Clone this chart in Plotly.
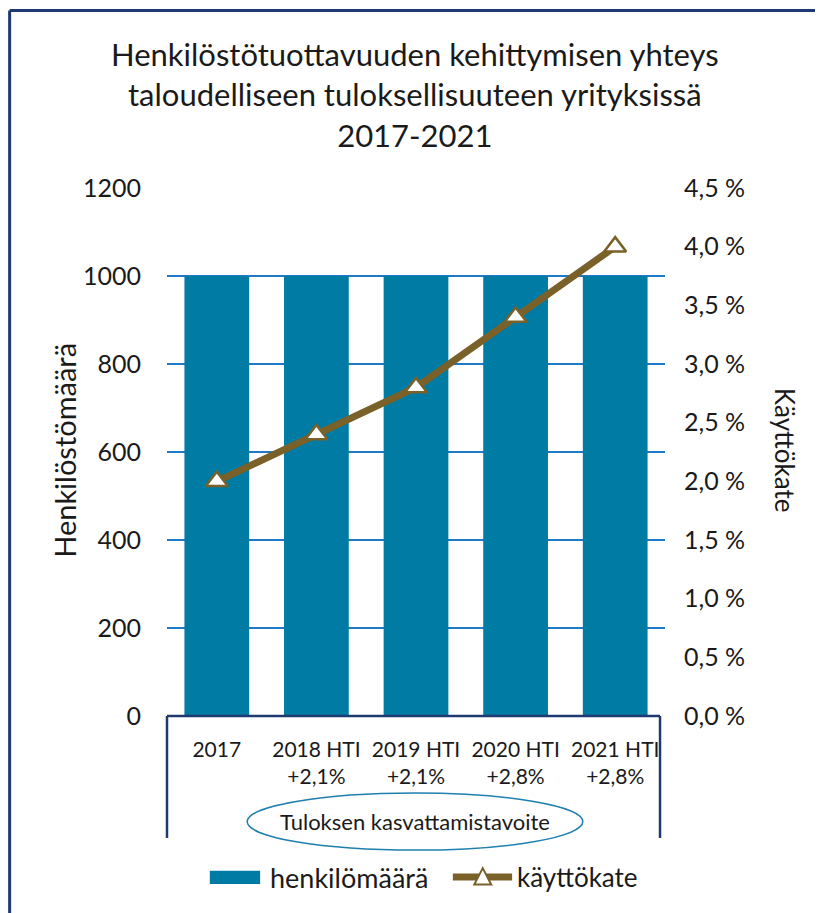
import plotly.graph_objects as go

# data
categories = ["2017", "2018 HTI<br>+2,1%", "2019 HTI<br>+2,1%", "2020 HTI<br>+2,8%", "2021 HTI<br>+2,8%"]
henkilomaara = [1000, 1000, 1000, 1000, 1000]
kayttokate = [2.0, 2.4, 2.8, 3.4, 4.0]

TITLE = "Henkilöstötuottavuuden kehittymisen yhteys<br>taloudelliseen tuloksellisuuteen yrityksissä<br>2017-2021"
FONT = "Lato"
TXT = "#1a1a1a"
BAR = "#007BA4"
LINE = "#7A6129"
GRID = "#1F78C8"
NAVY = "#1F3A70"

fig = go.Figure()
fig.add_trace(go.Bar(
    x=categories, y=henkilomaara, name="henkilömäärä",
    marker=dict(color=BAR, line_width=0), showlegend=False,
))
fig.add_trace(go.Scatter(
    x=categories, y=kayttokate, name="käyttökate", yaxis="y2",
    mode="lines+markers",
    line=dict(color=LINE, width=7),
    marker=dict(symbol="triangle-up", size=19, color="white", line=dict(color=LINE, width=2.5)),
    showlegend=False,
))

shapes = []
# box around category labels
for x0, y0, x1, y1 in [(0, 0, 0.99, 0), (0, 0, 0, -0.231), (0.99, 0, 0.99, -0.231)]:
    shapes.append(dict(type="line", xref="paper", yref="paper", x0=x0, y0=y0, x1=x1, y1=y1,
                       line=dict(color=NAVY, width=2.5)))
# ellipse
shapes.append(dict(type="circle", xref="paper", yref="paper", x0=0.161, x1=0.835, y0=-0.254, y1=-0.146,
                   line=dict(color="#1F7FAF", width=1.5)))
# outer frame (top and left edges visible)
shapes.append(dict(type="line", xref="paper", yref="paper", x0=-0.316, y0=1.336, x1=1.32, y1=1.336,
                   line=dict(color=NAVY, width=3)))
shapes.append(dict(type="line", xref="paper", yref="paper", x0=-0.316, y0=1.336, x1=-0.316, y1=-0.375,
                   line=dict(color=NAVY, width=3)))
# legend symbols
shapes.append(dict(type="rect", xref="paper", yref="paper", x0=0.086, x1=0.187, y0=-0.318, y1=-0.293,
                   fillcolor=BAR, line_width=0))
shapes.append(dict(type="line", xref="paper", yref="paper", x0=0.574, x1=0.693, y0=-0.305, y1=-0.305,
                   line=dict(color=LINE, width=7)))
shapes.append(dict(type="path", xref="paper", yref="paper",
                   path="M 0.617 -0.319 L 0.651 -0.319 L 0.634 -0.288 Z",
                   fillcolor="white", line=dict(color=LINE, width=2)))

annotations = [
    dict(text=TITLE, x=0.498, y=1.2936, xref="paper", yref="paper", xanchor="center", yanchor="top",
         showarrow=False, font=dict(size=31, color=TXT)),
    dict(text="Henkilöstömäärä", x=-0.205, y=0.504, xref="paper", yref="paper", textangle=-90,
         xanchor="center", yanchor="middle", showarrow=False, font=dict(size=29, color=TXT)),
    dict(text="Käyttökate", x=1.241, y=0.504, xref="paper", yref="paper", textangle=90,
         xanchor="center", yanchor="middle", showarrow=False, font=dict(size=26, color=TXT)),
    dict(text="Tuloksen kasvattamistavoite", x=0.498, y=-0.2, xref="paper", yref="paper",
         xanchor="center", yanchor="middle", showarrow=False, font=dict(size=22, color=TXT)),
    dict(text="henkilömäärä", x=0.203, y=-0.305, xref="paper", yref="paper", xanchor="left",
         yanchor="middle", showarrow=False, font=dict(size=27, color=TXT)),
    dict(text="käyttökate", x=0.699, y=-0.305, xref="paper", yref="paper", xanchor="left",
         yanchor="middle", showarrow=False, font=dict(size=26, color=TXT)),
]

fig.update_layout(
    # page body adds an 8px offset, so the figure is 8px smaller to fit the window
    width=815, height=905,
    margin=dict(l=159, r=158, t=180, b=197),
    paper_bgcolor="white", plot_bgcolor="white",
    font=dict(family=FONT, color=TXT),
    separators=", ",
    bargap=0.35,
    xaxis=dict(showgrid=False, showline=False, ticks="", tickfont=dict(size=21),
               ticklabelstandoff=19),
    yaxis=dict(range=[0, 1200], dtick=200, tickformat="d", showgrid=True, gridcolor=GRID,
               gridwidth=2, zeroline=False, showline=False, tickfont=dict(size=25),
               ticklabelstandoff=25),
    yaxis2=dict(range=[0, 4.5], dtick=0.5, tickformat=".1f", ticksuffix=" %", overlaying="y",
                side="right", showgrid=False, zeroline=False, showline=False,
                tickfont=dict(size=25), ticklabelstandoff=18),
    shapes=shapes,
    annotations=annotations,
    showlegend=False,
)

fig.write_html("out.html", config={"displayModeBar": False})
